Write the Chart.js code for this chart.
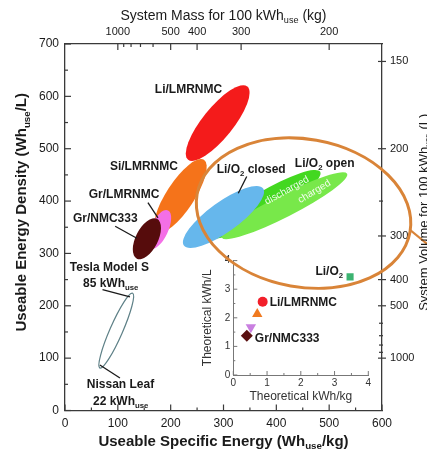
<!DOCTYPE html>
<html>
<head>
<meta charset="utf-8">
<script src="https://cdn.jsdelivr.net/npm/chart.js@4.4.1/dist/chart.umd.min.js"></script>
<style>
  html, body { margin: 0; padding: 0; background: #fff; }
  #wrap { position: relative; width: 427px; height: 454px; overflow: hidden; }
  #main { position: absolute; left: 0; top: 0; z-index: 2; }
  #inset { position: absolute; left: 190px; top: 250px; z-index: 1; }
</style>
</head>
<body>
<div id="wrap">
  <canvas id="inset" width="190" height="160"></canvas>
  <canvas id="main" width="427" height="454"></canvas>
</div>
<script>
// regions in the main plot: two ends of each (Wh_use/kg, Wh_use/L) and the width across
const regionNames = ['Li/LMRNMC', 'Si/LMRNMC', 'Gr/LMRNMC', 'Gr/NMC333',
  'Li/O2 open discharged', 'Li/O2 open charged', 'Li/O2 closed', 'Tesla S / Nissan Leaf'];
const lowKg    = [233, 174, 161, 136, 275, 297, 225, 66];
const lowL     = [479, 341, 309, 290, 332, 330, 315, 81];
const highKg   = [345, 263, 195, 174, 483, 534, 375, 128];
const highL    = [619, 479, 382, 366, 456, 452, 424, 224];
const spreadKg = [58, 53, 34, 42, 49, 42, 57, 24];
const regionFill = ['#f41b1b', '#f5731a', '#f46fe6', '#560c0c', '#43d820', '#78e84a', '#66b7ec', null];

// zoom ring round the Li/O2 regions
const ringKg = [250, 653];
const ringL  = [413, 341];
const ringSpread = 280;

// inset: theoretical values
const insetNames = ['Gr/NMC333', 'Gr/LMRNMC', 'Si/LMRNMC', 'Li/LMRNMC', 'Li/O2'];
const insetKg = [0.40, 0.52, 0.71, 0.87, 3.46];
const insetL  = [1.37, 1.67, 2.13, 2.56, 3.43];
const insetColor = ['#5a1010', '#c97fe0', '#f07a20', '#f21f2a', '#3cb371'];
const insetShape = ['rectRot', 'triangle', 'triangle', 'circle', 'rect'];

// secondary axes: mass / volume for 100 kWh_use
const massTicks = [1000, 500, 400, 300, 200];
const massMinor = [900, 800, 700, 600];
const volTicks  = [150, 200, 300, 400, 500, 1000];
const volMinor  = [250, 600, 700, 800, 900];

const fontFam = "'Liberation Sans', Arial, Helvetica, sans-serif";
const ink = '#1a1a1a';

function rich(ctx, str, x, y, size, weight, align, color) {
  const parts = str.split(/_\{|\}/);
  const fonts = parts.map((p, i) => `${weight} ${i % 2 ? size * 0.65 : size}px ${fontFam}`);
  let total = 0;
  const widths = parts.map((p, i) => { ctx.font = fonts[i]; const w = ctx.measureText(p).width; total += w; return w; });
  let cx = align === 'center' ? x - total / 2 : align === 'right' ? x - total : x;
  ctx.fillStyle = color || ink;
  ctx.textAlign = 'left';
  ctx.textBaseline = 'middle';
  parts.forEach((p, i) => {
    ctx.font = fonts[i];
    ctx.fillText(p, cx, i % 2 ? y + size * 0.33 : y);
    cx += widths[i];
  });
}

function ellipsePath(ctx, sx, sy, x1, y1, x2, y2, w) {
  const px1 = sx.getPixelForValue(x1), py1 = sy.getPixelForValue(y1);
  const px2 = sx.getPixelForValue(x2), py2 = sy.getPixelForValue(y2);
  const a = Math.hypot(px2 - px1, py2 - py1) / 2;
  const b = Math.abs(sx.getPixelForValue(w) - sx.getPixelForValue(0)) / 2;
  ctx.beginPath();
  ctx.ellipse((px1 + px2) / 2, (py1 + py2) / 2, a, b, Math.atan2(py2 - py1, px2 - px1), 0, Math.PI * 2);
}

function seg(ctx, x1, y1, x2, y2) {
  ctx.beginPath(); ctx.moveTo(x1, y1); ctx.lineTo(x2, y2); ctx.stroke();
}

// text notes and leader lines, anchored in data units
const notes = [
  ['Li/LMRNMC', 170, 613, 'left'],
  ['Si/LMRNMC', 85, 466, 'left'],
  ['Gr/LMRNMC', 45, 412, 'left'],
  ['Gr/NMC333', 15, 366, 'left'],
  ['Li/O_{2} closed', 287, 460, 'left'],
  ['Li/O_{2} open', 435, 471, 'left'],
  ['Tesla Model S', 84, 272, 'center'],
  ['85 kWh_{use}', 34, 242, 'left'],
  ['Nissan Leaf', 105, 49, 'center'],
  ['22 kWh_{use}', 53, 17, 'left']
];
const leaders = [[157, 397, 176, 368], [95, 352, 136, 329], [344, 447, 328, 415], [71, 231, 123, 217], [66, 87, 104, 62]];

const mainDecor = {
  id: 'mainDecor',
  beforeDatasetsDraw(chart) {
    const { ctx, scales: { x, y } } = chart;
    ctx.save();
    regionNames.forEach((n, i) => {
      ellipsePath(ctx, x, y, lowKg[i], lowL[i], highKg[i], highL[i], spreadKg[i]);
      if (regionFill[i]) { ctx.fillStyle = regionFill[i]; ctx.fill(); }
      else { ctx.strokeStyle = '#5e8087'; ctx.lineWidth = 1.2; ctx.stroke(); }
    });
    // labels written along the green regions
    [['discharged', 420, 420, -29], ['charged', 472, 418, -31]].forEach(([t, vx, vy, ang]) => {
      ctx.save();
      ctx.translate(x.getPixelForValue(vx), y.getPixelForValue(vy));
      ctx.rotate(ang * Math.PI / 180);
      ctx.font = `10px ${fontFam}`;
      ctx.fillStyle = 'rgba(255,255,255,0.9)';
      ctx.textAlign = 'center'; ctx.textBaseline = 'middle';
      ctx.fillText(t, 0, 0);
      ctx.restore();
    });
    // ring and its callout line
    ellipsePath(ctx, x, y, ringKg[0], ringL[0], ringKg[1], ringL[1], ringSpread);
    ctx.strokeStyle = '#d98438'; ctx.lineWidth = 3; ctx.stroke();
    ctx.lineWidth = 2;
    seg(ctx, x.getPixelForValue(653), y.getPixelForValue(345), x.getPixelForValue(712), y.getPixelForValue(296));
    // leader lines
    ctx.strokeStyle = ink; ctx.lineWidth = 1.3;
    leaders.forEach(l => seg(ctx, x.getPixelForValue(l[0]), y.getPixelForValue(l[1]), x.getPixelForValue(l[2]), y.getPixelForValue(l[3])));
    notes.forEach(([t, vx, vy, al]) => rich(ctx, t, x.getPixelForValue(vx), y.getPixelForValue(vy), 12, 'bold', al));
    ctx.restore();
  },
  afterDraw(chart) {
    const { ctx, chartArea: { left, right, top, bottom }, scales: { x, y, x2, y2 } } = chart;
    ctx.save();
    ctx.strokeStyle = '#3a3a3a'; ctx.lineWidth = 1.2;
    for (let v = 0; v <= 700; v += 50) {
      const py = y.getPixelForValue(v);
      seg(ctx, left, py, left + (v % 100 ? 3 : 6), py);
    }
    for (let v = 0; v <= 600; v += 50) {
      const px = x.getPixelForValue(v);
      seg(ctx, px, bottom, px, bottom - (v % 100 ? 3 : 6));
    }
    massTicks.forEach(m => { const px = x2.getPixelForValue(100000 / m); seg(ctx, px, top, px, top + 6); });
    massMinor.forEach(m => { const px = x2.getPixelForValue(100000 / m); seg(ctx, px, top, px, top + 3); });
    volTicks.forEach(m => { const py = y2.getPixelForValue(100000 / m); seg(ctx, right - 4, py, right + 4, py); });
    volMinor.forEach(m => { const py = y2.getPixelForValue(100000 / m); seg(ctx, right - 3, py, right + 1, py); });

    const cx = (left + right) / 2, cy = (top + bottom) / 2;
    rich(ctx, 'System Mass for 100 kWh_{use} (kg)', cx, top - 28, 14, 'normal', 'center');
    rich(ctx, 'Useable Specific Energy (Wh_{use}/kg)', cx, bottom + 31, 15, 'bold', 'center');
    ctx.save();
    ctx.translate(left - 43, cy - 15); ctx.rotate(-Math.PI / 2);
    rich(ctx, 'Useable Energy Density (Wh_{use}/L)', 0, 0, 15, 'bold', 'center');
    ctx.restore();
    ctx.save();
    ctx.translate(right + 42, cy - 15); ctx.rotate(-Math.PI / 2);
    rich(ctx, 'System Volume for 100 kWh_{use} (L)', 0, 0, 13, 'normal', 'center');
    ctx.restore();
    ctx.restore();
  }
};

const axisBorder = { display: true, color: '#3a3a3a', width: 1.3 };
const noGrid = { display: true, drawOnChartArea: false, drawTicks: false };

new Chart(document.getElementById('main'), {
  type: 'scatter',
  data: { datasets: [{ data: [] }] },
  options: {
    responsive: false, animation: false,
    layout: { padding: 0 },
    plugins: { legend: { display: false }, tooltip: { enabled: false } },
    scales: {
      x: {
        type: 'linear', position: 'bottom', min: 0, max: 600,
        ticks: { stepSize: 100, padding: 6, color: ink, font: { family: fontFam, size: 12 }, maxRotation: 0 },
        grid: noGrid, border: axisBorder,
        afterFit(s) { s.height = 43.5; }
      },
      y: {
        type: 'linear', position: 'left', min: 0, max: 700,
        ticks: { stepSize: 100, padding: 6, color: ink, font: { family: fontFam, size: 12 } },
        grid: noGrid, border: axisBorder,
        afterFit(s) { s.width = 65; }
      },
      x2: {
        type: 'linear', position: 'top', min: 0, max: 600,
        afterBuildTicks(s) { s.ticks = massTicks.map(m => ({ value: 100000 / m })); },
        ticks: { autoSkip: false, maxRotation: 0, padding: 5, color: ink, font: { family: fontFam, size: 11 },
          callback: v => Math.round(100000 / v) },
        grid: noGrid, border: axisBorder,
        afterFit(s) { s.height = 44; }
      },
      y2: {
        type: 'linear', position: 'right', min: 0, max: 700,
        afterBuildTicks(s) { s.ticks = volTicks.map(m => ({ value: 100000 / m })); },
        ticks: { autoSkip: false, padding: 8, color: ink, font: { family: fontFam, size: 11 },
          callback: v => Math.round(100000 / v) },
        grid: noGrid, border: axisBorder,
        afterFit(s) { s.width = 45; }
      }
    }
  },
  plugins: [mainDecor]
});

// inset chart
const insetDecor = {
  id: 'insetDecor',
  afterDraw(chart) {
    const { ctx, chartArea: { left, right, top, bottom }, scales: { x, y } } = chart;
    ctx.save();
    ctx.strokeStyle = '#777'; ctx.lineWidth = 1;
    for (let v = 0; v <= 4; v += 0.5) {
      const py = y.getPixelForValue(v), px = x.getPixelForValue(v);
      const len = v % 1 ? 2 : 4;
      seg(ctx, left, py, left + len, py);
      seg(ctx, px, bottom, px, bottom - len);
    }
    const pt = i => [x.getPixelForValue(insetKg[i]), y.getPixelForValue(insetL[i])];
    let p = pt(3); rich(ctx, 'Li/LMRNMC', p[0] + 7, p[1] + 1, 12, 'bold', 'left');
    p = pt(0); rich(ctx, 'Gr/NMC333', p[0] + 8, p[1] + 3, 12, 'bold', 'left');
    p = pt(4); rich(ctx, 'Li/O_{2}', p[0] - 7, p[1] - 5, 12, 'bold', 'right');
    rich(ctx, 'Theoretical kWh/kg', (left + right) / 2, bottom + 22, 12, 'normal', 'center', '#333');
    ctx.save();
    ctx.translate(left - 26, (top + bottom) / 2); ctx.rotate(-Math.PI / 2);
    rich(ctx, 'Theoretical kWh/L', 0, 0, 12, 'normal', 'center', '#333');
    ctx.restore();
    ctx.restore();
  }
};

const insetTicks = { stepSize: 1, color: '#333', font: { family: fontFam, size: 10 }, maxRotation: 0 };
const insetBorder = { display: true, color: '#777', width: 1 };

new Chart(document.getElementById('inset'), {
  type: 'scatter',
  data: {
    datasets: insetNames.map((n, i) => ({
      label: n,
      data: [{ x: insetKg[i], y: insetL[i] }],
      pointStyle: insetShape[i],
      rotation: n === 'Gr/LMRNMC' ? 180 : 0,
      pointRadius: insetShape[i] === 'triangle' ? 6 : insetShape[i] === 'rectRot' ? 6 : 5,
      backgroundColor: insetColor[i],
      borderColor: insetColor[i],
      borderWidth: 0
    }))
  },
  options: {
    responsive: false, animation: false,
    layout: { padding: { left: 0, right: 11.7, top: 10.6, bottom: 0 } },
    plugins: { legend: { display: false }, tooltip: { enabled: false } },
    scales: {
      x: { min: 0, max: 4, ticks: { ...insetTicks, padding: 2 }, grid: noGrid, border: insetBorder,
        afterFit(s) { s.height = 35; } },
      y: { min: 0, max: 4, ticks: { ...insetTicks, padding: 3 }, grid: noGrid, border: insetBorder,
        afterFit(s) { s.width = 43.3; } }
    }
  },
  plugins: [insetDecor]
});
</script>
</body>
</html>
